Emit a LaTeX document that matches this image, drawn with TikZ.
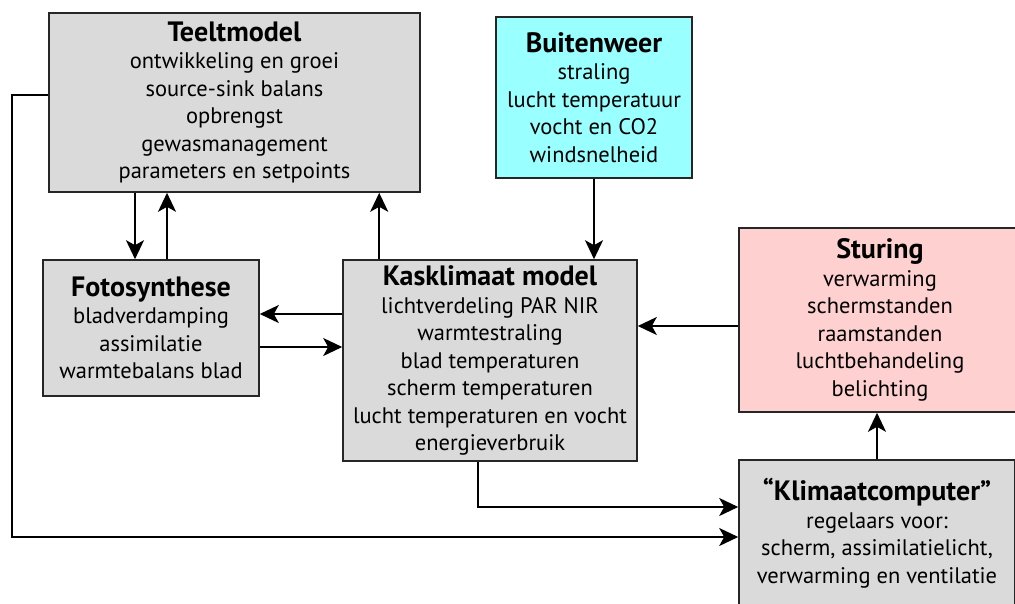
\documentclass[tikz,border=0pt]{standalone}
\usepackage{fontspec}
\setmainfont{PT Sans}
\usetikzlibrary{arrows.meta,positioning}
\definecolor{boxgray}{RGB}{218,218,218}
\definecolor{weercyan}{RGB}{153,255,255}
\definecolor{stuurpink}{RGB}{255,208,208}
\newcommand{\kop}[1]{{\fontsize{28}{27.5}\selectfont\bfseries #1}}

\begin{document}
\begin{tikzpicture}[
    x=1pt, y=-1pt,
    box/.style={rectangle, draw=black!85, line width=1.6pt, fill=boxgray, inner sep=0pt, align=center, font=\fontsize{22.5}{27.5}\selectfont},
    arrow/.style={-{Stealth[length=19pt, width=18pt, inset=5pt]}, line width=2.2pt}
]
    \useasboundingbox (0,0) rectangle (1015,603);
    \clip (0,0) rectangle (1015,603);

    % Nodes
    \node[box, minimum width=371, minimum height=179] (teelt) at (234.5,102.5)
        {\kop{Teeltmodel}\\ontwikkeling en groei\\source-sink balans\\opbrengst\\gewasmanagement\\parameters en setpoints};
    \node[box, fill=weercyan, minimum width=196, minimum height=161] (buiten) at (594,97.5)
        {\kop{Buitenweer}\\straling\\lucht temperatuur\\vocht en CO2\\windsnelheid};
    \node[box, minimum width=216, minimum height=136] (foto) at (151,328)
        {\kop{Fotosynthese}\\bladverdamping\\assimilatie\\warmtebalans blad};
    \node[box, minimum width=294, minimum height=201] (kas) at (490,360.5)
        {\kop{Kasklimaat model}\\lichtverdeling PAR NIR\\warmtestraling\\blad temperaturen\\scherm temperaturen\\lucht temperaturen en vocht\\energieverbruik};
    \node[box, fill=stuurpink, minimum width=282, minimum height=184] (sturing) at (880,320)
        {\kop{Sturing}\\verwarming\\schermstanden\\raamstanden\\luchtbehandeling\\belichting};
    \node[box, minimum width=276, minimum height=146] (klimaat) at (877,533)
        {\kop{“Klimaatcomputer”}\\regelaars voor:\\scherm, assimilatielicht,\\verwarming en ventilatie};
    \coordinate (links) at (12,300);

    % Arrows
    \draw[arrow] ([xshift=-16]foto.north |- teelt.south) -- ([xshift=-16]foto.north);
    \draw[arrow] ([xshift=16]foto.north) -- ([xshift=16]foto.north |- teelt.south);
    \draw[arrow] ([xshift=37]kas.north west) -- ([xshift=37]kas.north west |- teelt.south);
    \draw[arrow] (buiten.south) -- (buiten.south |- kas.north);
    \draw[arrow] ([yshift=14]foto.east -| kas.west) -- ([yshift=14]foto.east);
    \draw[arrow] ([yshift=-19]foto.east) -- ([yshift=-19]foto.east -| kas.west);
    \draw[arrow] ([yshift=-6]sturing.west) -- ([yshift=-6]sturing.west -| kas.east);
    \draw[arrow] (klimaat.north) -- (klimaat.north |- sturing.south);
    \draw[arrow] ([xshift=-12]kas.south) |- ([yshift=26]klimaat.west);
    \draw[arrow] ([yshift=7.5]teelt.west) -- ([yshift=7.5]teelt.west -| links) |- ([yshift=-4]klimaat.west);
\end{tikzpicture}
\end{document}
